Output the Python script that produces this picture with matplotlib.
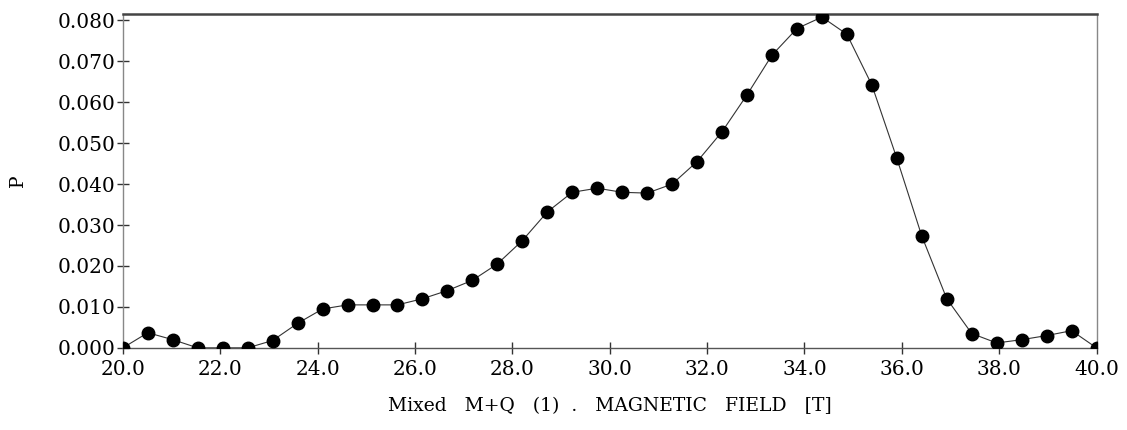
import numpy as np
import matplotlib
matplotlib.use("Agg")
import matplotlib.pyplot as plt

# field values (T) and probability P
field = np.linspace(20.0, 40.0, 40)
prob = [0.0, 0.0037, 0.0020, 0.0, 0.0, 0.0, 0.0018, 0.0060, 0.0095, 0.0105,
        0.0105, 0.0105, 0.0120, 0.0140, 0.0165, 0.0205, 0.0262, 0.0332, 0.0380, 0.0390,
        0.0380, 0.0378, 0.0400, 0.0455, 0.0528, 0.0618, 0.0715, 0.0780, 0.0808, 0.0766,
        0.0642, 0.0463, 0.0273, 0.0120, 0.0035, 0.0012, 0.0020, 0.0030, 0.0042, 0.0]

xticks = np.arange(20.0, 40.1, 2.0)
yticks = np.arange(0.0, 0.0801, 0.010)

plt.rcParams['font.family'] = ['DejaVu Serif']

fig = plt.figure(figsize=(11.27, 4.30), dpi=100)
ax = fig.add_axes([0.109, 0.191, 0.864, 0.776])

ax.plot(field, prob, color='#333333', lw=0.8, marker='o', markersize=9,
        markerfacecolor='black', markeredgecolor='black', zorder=3)

ax.set_xlim(20.0, 40.0)
ax.set_ylim(0.0, 0.0815)
ax.set_xticks(xticks)
ax.set_xticklabels(["%.1f" % v for v in xticks])
ax.set_yticks(yticks)
ax.set_yticklabels(["%.3f" % v for v in yticks])

ax.tick_params(direction='inout', length=9, width=1, color='#333333',
               labelsize=14.5)
ax.tick_params(axis='x', pad=4)
ax.tick_params(axis='y', pad=1)

for side in ['left', 'right', 'bottom']:
    ax.spines[side].set_color('#888888')
    ax.spines[side].set_linewidth(1)
ax.spines['bottom'].set_color('#555555')
ax.spines['top'].set_color('#444444')
ax.spines['top'].set_linewidth(1.8)

ax.set_xlabel("Mixed   M+Q   (1)  .   MAGNETIC   FIELD   [T]", fontsize=13.5, labelpad=13)
ax.set_ylabel("P", fontsize=13.5, labelpad=22)

fig.savefig("out.png", dpi=100)
